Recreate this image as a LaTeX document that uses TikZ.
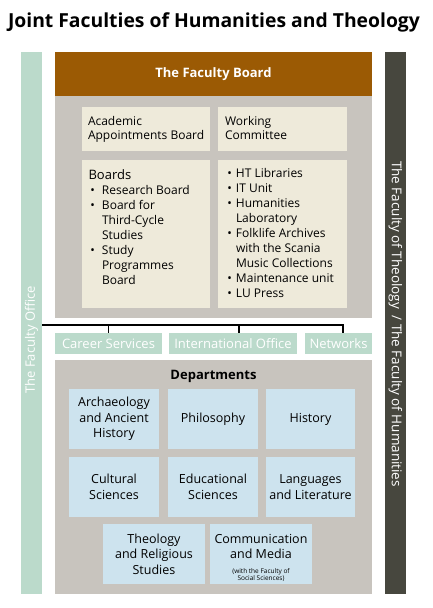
\documentclass[tikz,border=0pt]{standalone}
\usepackage{fontspec}
\usepackage{graphicx}
\setmainfont{Open Sans}
\definecolor{officegreen}{RGB}{187,218,203}
\definecolor{facdark}{RGB}{71,71,62}
\definecolor{boardbrown}{RGB}{155,90,4}
\definecolor{panelgray}{RGB}{200,196,190}
\definecolor{cream}{RGB}{238,234,218}
\definecolor{deptblue}{RGB}{205,227,238}
\begin{document}
\begin{tikzpicture}[x=1pt,y=-1pt,
  panel/.style={draw=none,inner sep=0pt,outer sep=0pt,anchor=north west},
  dept/.style={panel,fill=deptblue,align=center,font=\fontsize{12.5}{15.5}\selectfont},
  txt/.style={inner sep=0pt,outer sep=0pt,anchor=base west,font=\fontsize{12}{15}\selectfont},
  conn/.style={draw=black,line width=1.3pt}]
\useasboundingbox (0,0) rectangle (432,608);
% title
\node[inner sep=0pt,anchor=base,font=\fontsize{20}{24}\selectfont\bfseries] (title) at (214,27) {\resizebox{412pt}{!}{Joint Faculties of Humanities and Theology}};
% side bars
\node[panel,fill=officegreen,minimum width=21pt,minimum height=542pt] (office) at (21,52) {};
\node[panel,fill=facdark,minimum width=21pt,minimum height=542pt] (faculties) at (385,52) {};
\node[rotate=90,text=white,inner sep=0pt,font=\fontsize{13}{15}\selectfont] (officetxt) at (31.5,340) {The Faculty Office};
\node[rotate=-90,text=white,inner sep=0pt,font=\fontsize{13.5}{15}\selectfont] (factxt) at (395.5,324) {The Faculty of Theology\hspace{3pt} / The Faculty of Humanities};
% faculty board
\node[panel,fill=boardbrown,minimum width=317pt,minimum height=44pt] (boardhead) at (55,52) {};
\node[text=white,inner sep=0pt,font=\fontsize{13}{15}\selectfont\bfseries] (boardtxt) at (213.5,74) {The Faculty Board};
\node[panel,fill=panelgray,minimum width=317pt,minimum height=222pt] (boardpanel) at (55,96) {};
\node[panel,fill=cream,minimum width=128pt,minimum height=44pt] (acad) at (82,107) {};
\node[panel,fill=cream,minimum width=129pt,minimum height=44pt] (wc) at (218,107) {};
\node[panel,fill=cream,minimum width=128pt,minimum height=148pt] (boards) at (82,160) {};
\node[panel,fill=cream,minimum width=129pt,minimum height=148pt] (units) at (218,160) {};
\node[txt,font=\fontsize{12}{14.5}\selectfont] (acadtxt) at (88,125) {\begin{tabular}[t]{@{}l@{}}Academic\\Appointments Board\end{tabular}};
\node[txt,font=\fontsize{12}{14.5}\selectfont] (wctxt) at (225,125) {\begin{tabular}[t]{@{}l@{}}Working\\Committee\end{tabular}};
\node[txt,font=\fontsize{13}{15}\selectfont] (boardshead) at (88.5,179) {Boards};
\node[txt] (boardslist) at (102,194) {\begin{tabular}[t]{@{}l@{}}
\llap{\textbullet\hspace{7pt}}Research Board\\
\llap{\textbullet\hspace{7pt}}Board for\\
Third-Cycle\\
Studies\\
\llap{\textbullet\hspace{7pt}}Study\\
Programmes\\
Board\end{tabular}};
\node[txt] (unitslist) at (236,177) {\begin{tabular}[t]{@{}l@{}}
\llap{\textbullet\hspace{4pt}}HT Libraries\\
\llap{\textbullet\hspace{4pt}}IT Unit\\
\llap{\textbullet\hspace{4pt}}Humanities\\
Laboratory\\
\llap{\textbullet\hspace{4pt}}Folklife Archives\\
with the Scania\\
Music Collections\\
\llap{\textbullet\hspace{4pt}}Maintenance unit\\
\llap{\textbullet\hspace{4pt}}LU Press\end{tabular}};
% service boxes
\node[panel,fill=officegreen,minimum width=107pt,minimum height=21pt] (career) at (55,333) {};
\node[panel,fill=officegreen,minimum width=128pt,minimum height=21pt] (intl) at (169,333) {};
\node[panel,fill=officegreen,minimum width=67pt,minimum height=21pt] (net) at (305,333) {};
\node[text=white,inner sep=0pt,font=\fontsize{13}{15}\selectfont] at (career.center) {Career Services};
\node[text=white,inner sep=0pt,font=\fontsize{13}{15}\selectfont] at (intl.center) {International Office};
\node[text=white,inner sep=0pt,font=\fontsize{13}{15}\selectfont] at (net.center) {Networks};
% connectors
\coordinate (bus) at (0,325);
\coordinate (tn) at (343,325);
\coordinate (ti) at ([xshift=6pt]intl.north);
\draw[conn] (office.east |- bus) -- (tn) -- (tn |- net.north);
\draw[conn] (career.north |- bus) -- (career.north);
\draw[conn] (ti |- bus) -- (ti);
% departments
\node[panel,fill=panelgray,minimum width=317pt,minimum height=234pt] (depts) at (55,360) {};
\node[inner sep=0pt,anchor=base,font=\fontsize{13}{15}\selectfont\bfseries] (deptstxt) at (213.5,379) {Departments};
\node[dept,minimum width=90pt,minimum height=60pt] (archa) at (69,389) {Archaeology\\and Ancient\\History};
\node[dept,minimum width=90pt,minimum height=60pt] (phil) at (168,389) {Philosophy};
\node[dept,minimum width=89pt,minimum height=60pt] (hist) at (266,389) {History};
\node[dept,minimum width=90pt,minimum height=60pt] (cult) at (69,457) {Cultural\\Sciences};
\node[dept,minimum width=90pt,minimum height=60pt] (edu) at (168,457) {Educational\\Sciences};
\node[dept,minimum width=89pt,minimum height=60pt] (lang) at (266,457) {Languages\\and Literature};
\node[dept,minimum width=102pt,minimum height=60pt] (theo) at (103,524) {Theology\\and Religious\\Studies};
\node[dept,minimum width=102pt,minimum height=60pt] (comm) at (210,524) {};
\node[inner sep=0pt,anchor=base,font=\fontsize{12.5}{15}\selectfont] (commtxt) at (261,543) {\begin{tabular}[t]{@{}c@{}}Communication\\and Media\end{tabular}};
\node[inner sep=0pt,anchor=base,font=\fontsize{6.5}{7}\selectfont] (commnote) at (261,573) {\begin{tabular}[t]{@{}c@{}}(with the Faculty of\\Social Sciences)\end{tabular}};
\end{tikzpicture}
\end{document}
